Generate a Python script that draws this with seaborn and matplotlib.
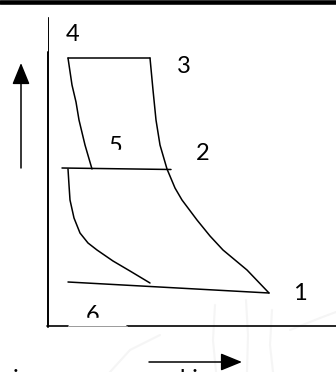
import matplotlib
matplotlib.use("Agg")
import matplotlib.pyplot as plt
import seaborn as sns
import pandas as pd
from matplotlib.patches import Rectangle

sns.set_theme(style="white")
plt.rcParams['font.family'] = ['Lato', 'DejaVu Sans']

# ---- data (diagram coordinates, y grows downward) ----
top_bar_x = [0, 336]
top_bar_y = [2, 2]

yaxis_thin_x = [48, 48]
yaxis_thin_y = [17, 52]
yaxis_x = [48, 48]
yaxis_y = [52, 327]

xaxis_a_x = [47, 68]
xaxis_b_x = [127, 336]
xaxis_gray_x = [68, 127]
xaxis_y = [326, 326]

line43_x = [68, 150]
line43_y = [58, 58]

left45_x = [68, 72, 76, 79, 85, 92]
left45_y = [58, 85, 102, 120, 145, 169]

right321_x = [150, 153, 156, 160, 167, 175, 182, 197, 210, 223, 247, 269]
right321_y = [58, 90, 120, 145, 169, 188, 200, 220, 236, 250, 270, 293]

line52_x = [62, 171]
line52_y = [168, 169.5]

inner_x = [68, 69, 70, 74, 80, 88, 97, 113, 130, 150]
inner_y = [169, 185, 200, 218, 233, 243, 250, 261, 271, 283]

bottom61_x = [68, 269]
bottom61_y = [282, 293]

labels = ["4", "3", "5", "2", "1", "6"]
label_x = [73, 184, 116, 202.5, 299.5, 93]
label_y = [34.5, 66.5, 146.5, 153, 293.5, 315]

bottom_text = ["i", "bi"]
bottom_text_x = [13, 179]

# faint watermark strokes in the lower right
wm_strokes_x = [[215, 213, 216], [246, 248, 247], [272, 270, 273], [110, 130, 160], [290, 320, 336]]
wm_strokes_y = [[305, 340, 372], [300, 335, 372], [310, 345, 372], [372, 350, 335], [330, 318, 312]]

fig = plt.figure(figsize=(3.36, 3.72), dpi=100)
ax = fig.add_axes([0, 0, 1, 1])
ax.set_xlim(0, 336)
ax.set_ylim(372, 0)
ax.axis('off')

def seg(x, y, lw, color="black", z=5):
    df = pd.DataFrame({"x": x, "y": y})
    sns.lineplot(data=df, x="x", y="y", sort=False, estimator=None,
                 color=color, lw=lw, ax=ax, zorder=z)

for wx, wy in zip(wm_strokes_x, wm_strokes_y):
    seg(wx, wy, 1.5, color="#f5f5f5", z=1)

seg(top_bar_x, top_bar_y, 3.3)
seg(yaxis_thin_x, yaxis_thin_y, 0.7)
seg(yaxis_x, yaxis_y, 1.4)
seg(xaxis_a_x, xaxis_y, 1.2)
seg(xaxis_b_x, xaxis_y, 1.2)
seg(xaxis_gray_x, xaxis_y, 0.7, color="#9a9a9a")
seg(line43_x, line43_y, 1.1)
seg(left45_x, left45_y, 1.1)
seg(right321_x, right321_y, 1.1)
seg(line52_x, line52_y, 1.1)
seg(inner_x, inner_y, 1.1)
seg(bottom61_x, bottom61_y, 1.1)

for t, x, y in zip(labels, label_x, label_y):
    ax.text(x, y, t, ha="center", va="center", fontsize=17, color="black", zorder=3)

# white boxes hiding lower part of labels 5 and 6
ax.add_patch(Rectangle((100, 149.5), 35, 17.5, color="white", zorder=4))
ax.add_patch(Rectangle((66, 317.5), 63, 8, color="white", zorder=4))

for t, x in zip(bottom_text, bottom_text_x):
    ax.text(x, 369.5, t, ha="left", va="top", fontsize=17, color="black", zorder=3)

# arrows
ax.annotate("", xy=(21, 63), xytext=(21, 168),
            arrowprops=dict(arrowstyle="-|>,head_length=1.1,head_width=0.45",
                            color="black", lw=1.1, shrinkA=0, shrinkB=0))
ax.annotate("", xy=(242, 362), xytext=(149, 362),
            arrowprops=dict(arrowstyle="-|>,head_length=1.1,head_width=0.45",
                            color="black", lw=1.1, shrinkA=0, shrinkB=0))

fig.savefig("out.png", dpi=100)
